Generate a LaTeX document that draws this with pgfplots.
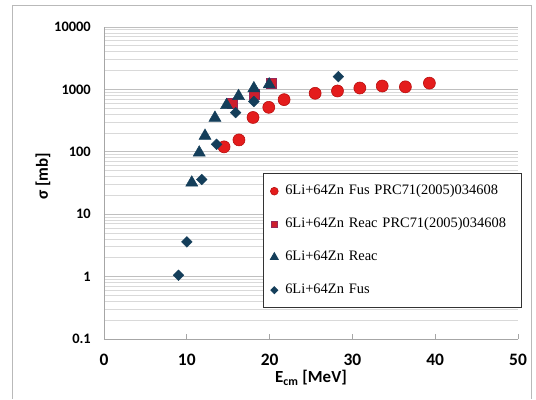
\documentclass[border=0pt]{standalone}
\usepackage{fontspec}
\setmainfont{Carlito}
\newfontfamily\legfont{Liberation Serif}
\usepackage{pgfplots}
\pgfplotsset{compat=1.18}
\definecolor{navyteal}{RGB}{20,62,90}
\definecolor{sqred}{RGB}{205,30,45}
\definecolor{sqedge}{RGB}{150,40,90}
\definecolor{circred}{RGB}{228,28,28}
\definecolor{circedge}{RGB}{185,15,15}
\begin{document}
\begin{tikzpicture}
\begin{axis}[
  scale only axis, width=414bp, height=312bp,
  xmin=0, xmax=50, ymin=0.1, ymax=10000, ymode=log,
  axis x line*=bottom, axis y line*=left,
  axis line style={-, gray!70, line width=0.8bp},
  xtick={0,10,20,30,40,50}, xticklabels={0,10,20,30,40,50},
  ytick={0.1,1,10,100,1000,10000}, yticklabels={0.1,1,10,100,1000,10000},
  tick align=inside, major tick length=5bp,
  xtick style={draw=gray!70, line width=0.8bp},
  ytick style={draw=none}, minor tick style={draw=none},
  ymajorgrids, yminorgrids,
  major grid style={gray!50, line width=0.8bp},
  minor grid style={gray!30, line width=0.8bp},
  xticklabel style={font=\fontsize{17.5}{19}\selectfont\bfseries, anchor=north, inner sep=0pt, yshift=-15bp},
  yticklabel style={font=\fontsize{14.5}{16}\selectfont\bfseries, anchor=east, inner sep=0pt, xshift=-13bp},
  xlabel={E\textsubscript{cm} [MeV]},
  xlabel style={font=\fontsize{17}{19}\selectfont\bfseries, at={(axis description cs:0.5,0)}, anchor=north, inner sep=0pt, yshift=-31bp},
  ylabel={σ [mb]},
  ylabel style={font=\fontsize{17}{19}\selectfont\bfseries, at={(axis description cs:-0.1473,0.522)}, anchor=center, inner sep=0pt},
  legend cell align=left,
  legend image code/.code={\draw[#1, every mark/.append style={scale=0.65}] plot coordinates {(0bp,0bp)};},
  legend style={at={(axis description cs:0.3833,0.5311)}, anchor=north west,
    draw=black!80, line width=0.8bp, fill=white,
    font=\legfont\fontsize{14.5}{16}\selectfont,
    inner xsep=7.3bp, inner ysep=10bp, row sep=18bp, column sep=7bp,
    nodes={inner sep=0pt, text height=11bp, text depth=4bp},
    /tikz/every even column/.append style={text width=229bp}},
  clip=false,
]
\addplot[only marks, mark=*, mark size=6bp, mark options={fill=circred, draw=circedge, line width=0.6bp}] coordinates {
 (14.5,120) (16.3,155) (18.0,355) (19.9,516) (21.75,685) (25.5,866) (28.2,943) (30.9,1052) (33.6,1133) (36.4,1100) (39.3,1260)};
\addlegendentry{6Li+64Zn Fus PRC71(2005)034608}
\addplot[only marks, mark=square*, mark size=5bp, mark options={fill=sqred, draw=sqedge, line width=0.6bp}] coordinates {
 (15.5,600) (18.1,850) (20.2,1250)};
\addlegendentry{6Li+64Zn Reac PRC71(2005)034608}
\addplot[only marks, mark=triangle*, mark size=7bp, mark options={fill=navyteal, draw=navyteal}] coordinates {
 (10.6,32) (11.5,97) (12.2,180) (13.4,350) (14.8,560) (16.25,780) (18.1,1040) (19.95,1200)};
\addlegendentry{6Li+64Zn Reac}
\addplot[only marks, mark=square*, mark size=3.8bp, mark options={rotate=45, fill=navyteal, draw=navyteal}] coordinates {
 (9.0,1.05) (10.0,3.6) (11.8,36) (13.6,132) (15.9,425) (18.1,640) (28.3,1600)};
\addlegendentry{6Li+64Zn Fus}
\coordinate (O) at (rel axis cs:0,0);
\end{axis}
\begin{scope}[shift={(O)}]
\path (-104bp,-60bp) rectangle ++(536bp,399bp);
\draw[gray!55, line width=1bp] (-91bp,-60bp) -- (-91bp,333bp) -- (427bp,333bp) -- (427bp,-60bp);
\end{scope}
\end{tikzpicture}
\end{document}
